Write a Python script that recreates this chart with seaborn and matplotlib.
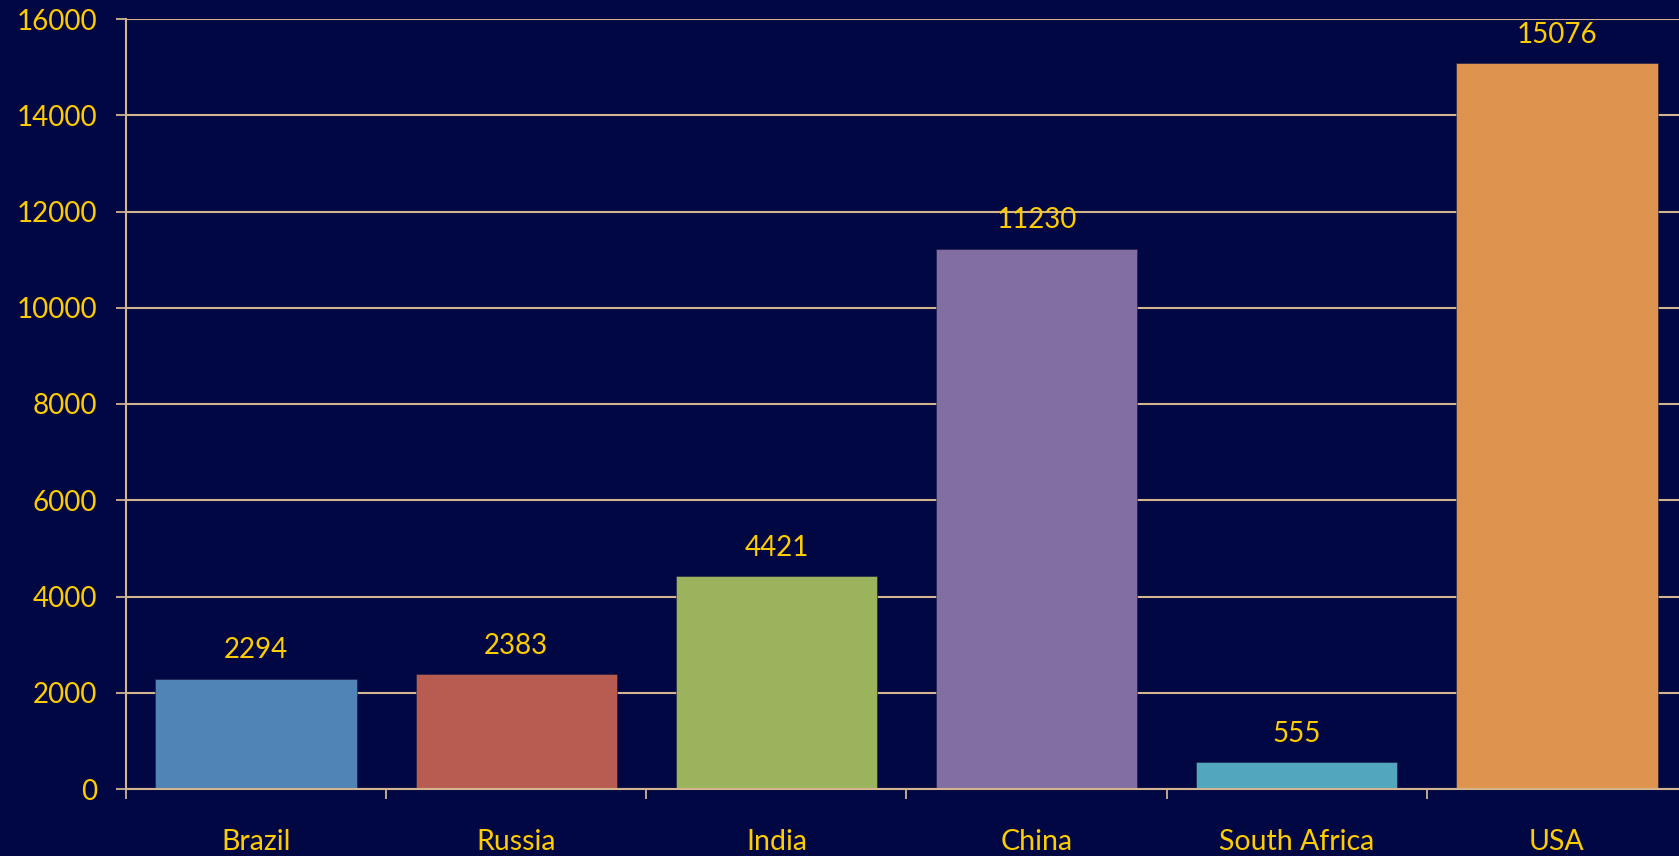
import numpy as np
import pandas as pd
import matplotlib
matplotlib.use("Agg")
import matplotlib.pyplot as plt
import seaborn as sns

# BRICS + USA values
countries = ["Brazil", "Russia", "India", "China", "South Africa", "USA"]
values = [2294, 2383, 4421, 11230, 555, 15076]
bar_colors = ["#5083b6", "#b85c52", "#9cb35e", "#836ea2", "#52a6be", "#de944e"]
y_ticks = [0, 2000, 4000, 6000, 8000, 10000, 12000, 14000, 16000]

bg = "#000742"
gold = "#ffcc00"
line_col = "#d2b48f"

sns.set_theme(style="white")
plt.rcParams["font.family"] = ["Lato", "DejaVu Sans"]

df = pd.DataFrame({"country": countries, "value": values})

fig = plt.figure(figsize=(16.79, 8.56), dpi=100, facecolor=bg)
ax = fig.add_axes([126 / 1679, 1 - 789 / 856, 1561 / 1679, 770 / 856])
ax.set_facecolor(bg)

sns.barplot(data=df, x="country", y="value", hue="country", palette=bar_colors,
            width=0.774, legend=False, ax=ax, saturation=1, zorder=3,
            edgecolor="#1a1a40", linewidth=0.4)

ax.set_ylim(0, 16000)
ax.set_xlim(-0.5, len(countries) - 0.5)
ax.set_yticks(y_ticks)
ax.set_yticklabels([str(t) for t in y_ticks])
ax.yaxis.grid(True, color=line_col, linewidth=1.5, zorder=1)
ax.set_axisbelow(True)

# ticks between categories, labels centred
ax.set_xticks(np.arange(-0.5, len(countries), 1.0))
ax.set_xticklabels([])
ax.set_xticks(np.arange(len(countries)), minor=True)
ax.set_xticklabels(countries, minor=True)
ax.tick_params(axis="x", which="major", direction="out", length=7, width=1.3,
               color=line_col, bottom=True)
ax.tick_params(axis="x", which="minor", length=0, pad=29, labelsize=20.5,
               labelcolor=gold)
ax.tick_params(axis="y", direction="out", length=7, width=1.3, color=line_col,
               left=True, pad=14, labelsize=20, labelcolor=gold)

ax.set_xlabel("")
ax.set_ylabel("")
for side in ["top", "right"]:
    ax.spines[side].set_visible(False)
for side in ["left", "bottom"]:
    ax.spines[side].set_color(line_col)
    ax.spines[side].set_linewidth(1.5)
ax.spines["bottom"].set_zorder(4)

for i, v in enumerate(values):
    ax.annotate(str(v), (i, v), xytext=(0, 11), textcoords="offset points",
                ha="center", va="bottom", color=gold, fontsize=20)

fig.savefig("out.png", dpi=100, facecolor=bg)
